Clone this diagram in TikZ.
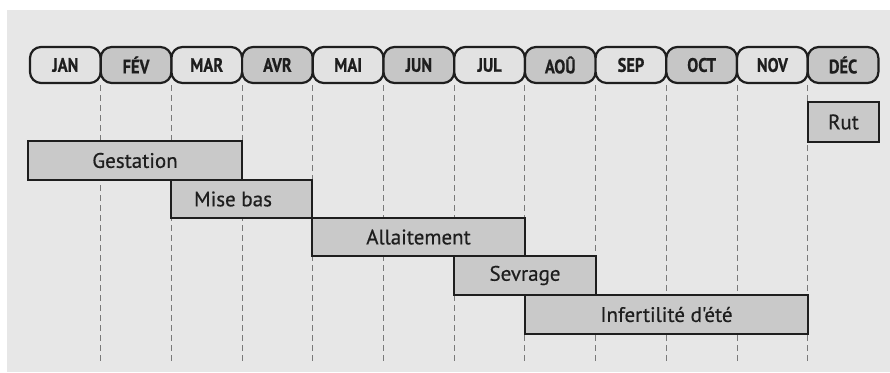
\documentclass[tikz,border=0pt]{standalone}
\usepackage{fontspec}
\setmainfont{PT Sans}
\newfontfamily\monthfont[FakeStretch=0.84,FakeBold=0.6]{PT Sans}
\newfontfamily\barfont[FakeBold=0.5]{PT Sans}
\definecolor{bgc}{HTML}{E7E7E7}
\definecolor{pilllight}{HTML}{E2E2E2}
\definecolor{pilldark}{HTML}{C6C6C6}
\definecolor{barc}{HTML}{C9C9C9}
\definecolor{inkc}{HTML}{1E1E1E}
\definecolor{dashc}{HTML}{7A7A7A}
\tikzset{
  pill/.style={draw=inkc, line width=2.2pt, rounded corners=11pt, minimum width=70.7pt, minimum height=36pt, inner sep=0pt, text=inkc, font=\monthfont\bfseries\fontsize{19.5}{19.5}\selectfont},
  plight/.style={pill, fill=pilllight},
  pdark/.style={pill, fill=pilldark},
  bartext/.style={text=inkc, font=\barfont\fontsize{21}{21}\selectfont},
  bar/.style={draw=inkc, line width=1.9pt, fill=barc, inner sep=0pt, bartext},
  guide/.style={draw=dashc, line width=1pt, dash pattern=on 6pt off 4pt}
}
\begin{document}
\begin{tikzpicture}[x=1pt,y=-1pt]
\useasboundingbox (0,0) rectangle (890,372);
\fill[white] (0,0) rectangle (890,372);
\fill[bgc] (7,10) rectangle (890,372);
% guides
\foreach \i in {1,...,11}{
  \coordinate (t\i) at ({30+70.7*\i},85);
  \coordinate (b\i) at ({30+70.7*\i},362);
  \draw[guide] (t\i) -- (b\i);
}
% bars
\node[bar, minimum width=71pt, minimum height=40pt] (rut) at (843.5,122) {Rut};
\node[bar, minimum width=214pt, minimum height=39pt] (gest) at (135,160.5) {Gestation};
\node[bar, minimum width=141pt, minimum height=38pt] (mise) at (241.5,199) {};
\node[bartext, inner sep=0pt] (misel) at (233,199) {Mise bas};
\node[bar, minimum width=213pt, minimum height=38pt] (allait) at (418.5,237) {Allaitement};
\node[bar, minimum width=142pt, minimum height=39pt] (sevr) at (525,275.5) {Sevrage};
\node[bar, minimum width=283pt, minimum height=39pt] (infert) at (666.5,314.5) {Infertilité d'été};
% months
\node[plight] (m1) at ({30+70.7*0.5},65) {JAN};
\node[pdark] (m2) at ({30+70.7*1.5},65) {FÉV};
\node[plight] (m3) at ({30+70.7*2.5},65) {MAR};
\node[pdark] (m4) at ({30+70.7*3.5},65) {AVR};
\node[plight] (m5) at ({30+70.7*4.5},65) {MAI};
\node[pdark] (m6) at ({30+70.7*5.5},65) {JUN};
\node[plight] (m7) at ({30+70.7*6.5},65) {JUL};
\node[pdark] (m8) at ({30+70.7*7.5},65) {AOÛ};
\node[plight] (m9) at ({30+70.7*8.5},65) {SEP};
\node[pdark] (m10) at ({30+70.7*9.5},65) {OCT};
\node[plight] (m11) at ({30+70.7*10.5},65) {NOV};
\node[pdark] (m12) at ({30+70.7*11.5},65) {DÉC};
\end{tikzpicture}
\end{document}
